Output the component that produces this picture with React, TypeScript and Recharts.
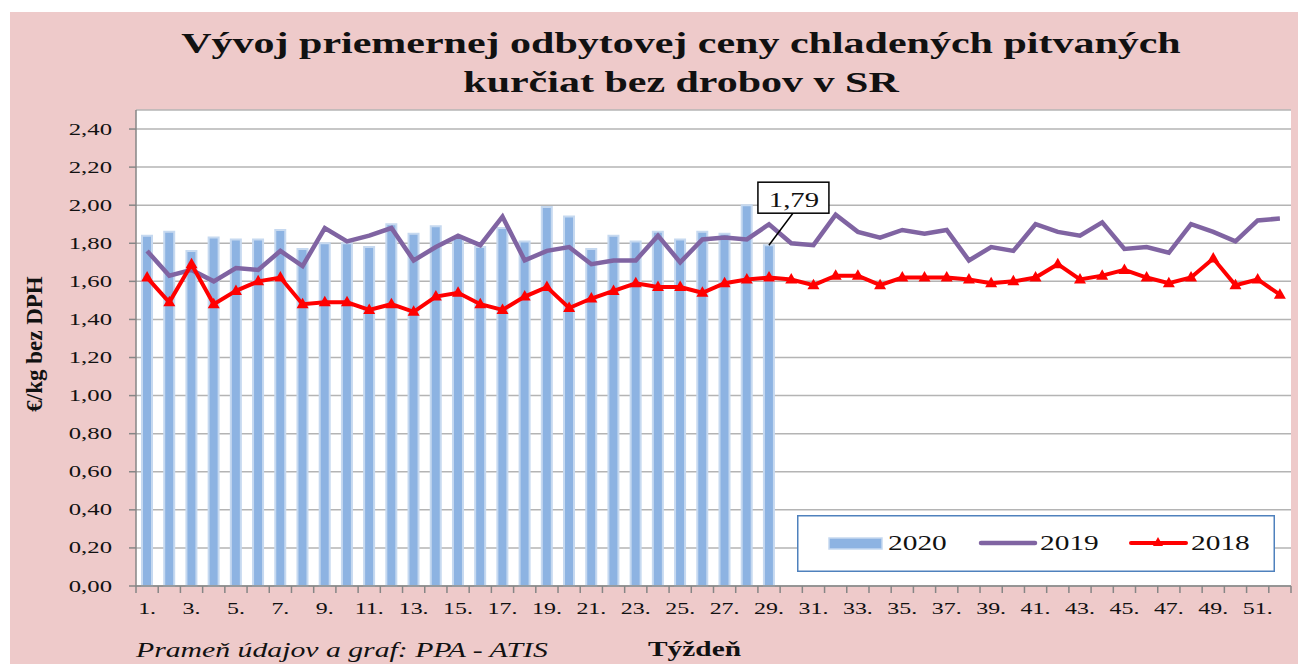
import { ComposedChart, Bar, Line, XAxis, YAxis, CartesianGrid, Legend, LabelList } from "recharts";

const weeks = [
	"1.", "2.", "3.", "4.", "5.", "6.", "7.", "8.", "9.", "10.",
	"11.", "12.", "13.", "14.", "15.", "16.", "17.", "18.", "19.", "20.",
	"21.", "22.", "23.", "24.", "25.", "26.", "27.", "28.", "29.", "30.",
	"31.", "32.", "33.", "34.", "35.", "36.", "37.", "38.", "39.", "40.",
	"41.", "42.", "43.", "44.", "45.", "46.", "47.", "48.", "49.", "50.",
	"51.", "52.",
];

const price2020 = [
	1.84, 1.86, 1.76, 1.83, 1.82, 1.82, 1.87, 1.77, 1.8, 1.8,
	1.78, 1.9, 1.85, 1.89, 1.83, 1.78, 1.88, 1.81, 1.99, 1.94,
	1.77, 1.84, 1.81, 1.86, 1.82, 1.86, 1.85, 2.0, 1.79,
];

const price2019 = [
	1.76, 1.63, 1.66, 1.6, 1.67, 1.66, 1.76, 1.68, 1.88, 1.81,
	1.84, 1.88, 1.71, 1.78, 1.84, 1.79, 1.94, 1.71, 1.76, 1.78,
	1.69, 1.71, 1.71, 1.84, 1.7, 1.82, 1.83, 1.82, 1.9, 1.8,
	1.79, 1.95, 1.86, 1.83, 1.87, 1.85, 1.87, 1.71, 1.78, 1.76,
	1.9, 1.86, 1.84, 1.91, 1.77, 1.78, 1.75, 1.9, 1.86, 1.81,
	1.92, 1.93,
];

const price2018 = [
	1.62, 1.49, 1.69, 1.48, 1.55, 1.6, 1.62, 1.48, 1.49, 1.49,
	1.45, 1.48, 1.44, 1.52, 1.54, 1.48, 1.45, 1.52, 1.57, 1.46,
	1.51, 1.55, 1.59, 1.57, 1.57, 1.54, 1.59, 1.61, 1.62, 1.61,
	1.58, 1.63, 1.63, 1.58, 1.62, 1.62, 1.62, 1.61, 1.59, 1.6,
	1.62, 1.69, 1.61, 1.63, 1.66, 1.62, 1.59, 1.62, 1.72, 1.58,
	1.61, 1.53,
];

const yTicks = [0, 0.2, 0.4, 0.6, 0.8, 1.0, 1.2, 1.4, 1.6, 1.8, 2.0, 2.2, 2.4];

const data = weeks.map((week, i) => ({
	week,
	y2020: price2020[i] ?? null,
	y2019: price2019[i] ?? null,
	y2018: price2018[i] ?? null,
}));

const lastBar = price2020.length - 1;

const SERIF = "'Liberation Serif', 'Times New Roman', serif";
const AXIS = "#868686";
const BAR_FILL = "#8DB3E2";
const BAR_EDGE = "#C6D9F0";
const PURPLE = "#8064A2";
const RED = "#FF0000";

const fmt = (v: number) => v.toFixed(2).replace(".", ",");

// text stretched horizontally like the original picture
const SText = ({ x, y, sx = 1.4, children, ...rest }: any) => (
	<text transform={`translate(${x},${y}) scale(${sx},1)`} fontFamily={SERIF} fill="#111" {...rest}>
		{children}
	</text>
);

const YTick = ({ x, y, payload }: any) => (
	<SText x={x} y={y + 5.5} sx={1.5} fontSize={16.5} textAnchor="end">
		{fmt(payload.value)}
	</SText>
);

const XTick = (props: any) => {
	const { x, y, payload, index, width, visibleTicksCount } = props;
	const step = width && visibleTicksCount ? width / visibleTicksCount : 22.2;
	const left = x - step / 2;
	return (
		<g>
			<line x1={left} x2={left} y1={y} y2={y + 7} stroke={AXIS} strokeWidth={1.5} />
			{index === visibleTicksCount - 1 && (
				<line x1={x + step / 2} x2={x + step / 2} y1={y} y2={y + 7} stroke={AXIS} strokeWidth={1.5} />
			)}
			{index % 2 === 0 && (
				<SText x={x} y={y + 28} sx={1.45} fontSize={16.5} textAnchor="middle">
					{payload.value}
				</SText>
			)}
		</g>
	);
};

const Triangle = ({ cx, cy }: any) => {
	if (cx == null || cy == null) return null;
	return <path d={`M${cx},${cy - 6.5} L${cx + 6},${cy + 4} L${cx - 6},${cy + 4} Z`} fill={RED} />;
};

const Callout = (props: any) => {
	const { x, y, width, index, value } = props;
	if (index !== lastBar || value == null) return null;
	const cx = x + width / 2;
	return (
		<g>
			<line x1={cx} y1={y} x2={cx + 24} y2={y - 32} stroke="#000" strokeWidth={1.5} />
			<rect x={cx - 11} y={y - 63} width={71} height={31} fill="#fff" stroke="#000" strokeWidth={1.5} />
			<SText x={cx + 25} y={y - 38} fontSize={20.5} textAnchor="middle">
				{fmt(value)}
			</SText>
		</g>
	);
};

const LegendBox = () => (
	<svg width={478} height={57} style={{ display: "block" }}>
		<rect x={0.75} y={0.75} width={476.5} height={55.5} fill="#fff" stroke="#4F81BD" strokeWidth={1.5} />
		<rect x={32} y={23} width={53} height={11} fill={BAR_FILL} stroke={BAR_EDGE} strokeWidth={1.5} />
		<SText x={91} y={35} fontSize={21}>2020</SText>
		<line x1={184} x2={238} y1={28} y2={28} stroke={PURPLE} strokeWidth={4.5} strokeLinecap="round" />
		<SText x={243} y={35} fontSize={21}>2019</SText>
		<line x1={334} x2={389} y1={28} y2={28} stroke={RED} strokeWidth={4} strokeLinecap="round" />
		<path d="M361,22 L366,31 L356,31 Z" fill={RED} />
		<SText x={394} y={35} fontSize={21}>2018</SText>
	</svg>
);

export default function App() {
	return (
		<div style={{ position: "absolute", left: 0, top: 0, width: 1298, height: 664, background: "#fff", overflow: "hidden" }}>
			<div style={{ position: "absolute", left: 10, top: 12, width: 1288, height: 652, background: "#EECACA" }} />
			<div style={{ position: "absolute", left: 0, top: 0 }}>
				<ComposedChart
					width={1298}
					height={664}
					data={data}
					margin={{ top: 110, right: 7, left: 76, bottom: 48 }}
					barCategoryGap={0}
				>
					<CartesianGrid vertical={false} stroke="#B4B4B4" strokeWidth={1.5} fill="#fff" />
					<XAxis
						dataKey="week"
						interval={0}
						height={30}
						tickLine={false}
						tickSize={0}
						tickMargin={0}
						axisLine={{ stroke: AXIS, strokeWidth: 1.5 }}
						tick={<XTick />}
					/>
					<YAxis
						width={60}
						domain={[0, 2.5]}
						ticks={yTicks}
						interval={0}
						tickSize={7}
						tickMargin={17}
						tickLine={{ stroke: AXIS, strokeWidth: 1.5 }}
						axisLine={{ stroke: AXIS, strokeWidth: 1.5 }}
						tick={<YTick />}
					/>
					<Legend
						layout="horizontal"
						verticalAlign="middle"
						align="center"
						content={<LegendBox />}
						wrapperStyle={{ position: "absolute", left: 797, top: 515, width: 478, height: 57, margin: 0, padding: 0 }}
					/>
					<Bar dataKey="y2020" name="2020" barSize={10} fill={BAR_FILL} stroke={BAR_EDGE} strokeWidth={2} isAnimationActive={false}>
						<LabelList dataKey="y2020" content={<Callout />} />
					</Bar>
					<Line
						type="linear"
						dataKey="y2019"
						name="2019"
						stroke={PURPLE}
						strokeWidth={4.5}
						dot={false}
						activeDot={false}
						isAnimationActive={false}
					/>
					<Line
						type="linear"
						dataKey="y2018"
						name="2018"
						stroke={RED}
						strokeWidth={4}
						dot={<Triangle />}
						activeDot={false}
						isAnimationActive={false}
					/>
				</ComposedChart>
			</div>
			<svg width={1298} height={664} style={{ position: "absolute", left: 0, top: 0, pointerEvents: "none" }}>
				<SText x={681} y={53} fontSize={30} fontWeight="bold" textAnchor="middle">
					Vývoj priemernej odbytovej ceny chladených pitvaných
				</SText>
				<SText x={681} y={92} fontSize={30} fontWeight="bold" textAnchor="middle">
					kurčiat bez drobov v SR
				</SText>
				<text
					transform="translate(42,344) rotate(-90)"
					fontFamily={SERIF}
					fontSize={23}
					fontWeight="bold"
					textAnchor="middle"
					fill="#111"
				>
					€/kg bez DPH
				</text>
				<SText x={136} y={657} sx={1.43} fontSize={20.8} fontStyle="italic">
					Prameň údajov a graf: PPA - ATIS
				</SText>
				<SText x={648} y={656} fontSize={21} fontWeight="bold">
					Týždeň
				</SText>
			</svg>
		</div>
	);
}
